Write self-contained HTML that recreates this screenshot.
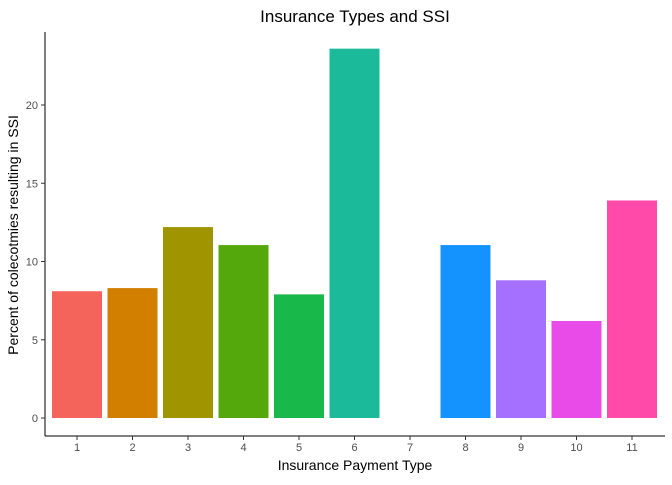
<!DOCTYPE html>
<html><head><meta charset="utf-8"><style>
body{margin:0;background:#fff;font-family:"Liberation Sans",sans-serif;}
</style></head><body>
<svg id="chart" width="672" height="480" xmlns="http://www.w3.org/2000/svg">
<text x="355" y="22" font-size="17" text-anchor="middle" fill="#000">Insurance Types and SSI</text>
<text x="355" y="470" font-size="14" text-anchor="middle" fill="#000">Insurance Payment Type</text>
<text transform="translate(18,235) rotate(-90)" font-size="14" text-anchor="middle" fill="#000">Percent of colecotmies resulting in SSI</text>
<g id="bars"></g>
<g id="axes"></g>
</svg>
<script>
const categories=["1","2","3","4","5","6","7","8","9","10","11"];
const values=[8.1,8.3,12.2,11.05,7.9,23.6,0,11.05,8.8,6.2,13.9];
const colors=["#F4645B","#D27F00","#A09400","#55A80C","#19B84A","#1BBA9A","#00BADE","#1493FF","#A56FFF","#E84BE7","#FF4AAA"];
const yTicks=[0,5,10,15,20];
const NS="http://www.w3.org/2000/svg";
const x0=45,x1=665,y0=436,yTop=32;
const step=55.5;
function xs(i){return 77+step*i;}
function ys(v){return 418-v*15.65;}
const bw=50;
const gb=document.getElementById('bars'),ga=document.getElementById('axes');
function mk(t,a,p){const e=document.createElementNS(NS,t);for(const k in a)e.setAttribute(k,a[k]);p.appendChild(e);return e;}
values.forEach((v,i)=>{
 if(v<=0)return;
 const r=mk('rect',{x:xs(i)-bw/2,y:ys(v),width:bw,height:ys(0)-ys(v),fill:colors[i]},gb);
 
 
});
const xl=mk('line',{x1:x0,y1:y0,x2:x1,y2:y0,stroke:'#000','stroke-width':1},ga);


const yl=mk('line',{x1:x0,y1:yTop,x2:x0,y2:y0,stroke:'#000','stroke-width':1},ga);


categories.forEach((c,i)=>{
 mk('line',{x1:xs(i),y1:y0,x2:xs(i),y2:y0+4,stroke:'#333'},ga);
 const t=mk('text',{x:xs(i),y:y0+15,'font-size':11,'text-anchor':'middle',fill:'#4d4d4d'},ga);
 t.textContent=c;
 
 
});
yTicks.forEach(v=>{
 mk('line',{x1:x0-4,y1:ys(v),x2:x0,y2:ys(v),stroke:'#333'},ga);
 const t=mk('text',{x:x0-7,y:ys(v)+4,'font-size':11,'text-anchor':'end',fill:'#4d4d4d'},ga);
 t.textContent=v;
 
 
});
</script>
</body></html>
